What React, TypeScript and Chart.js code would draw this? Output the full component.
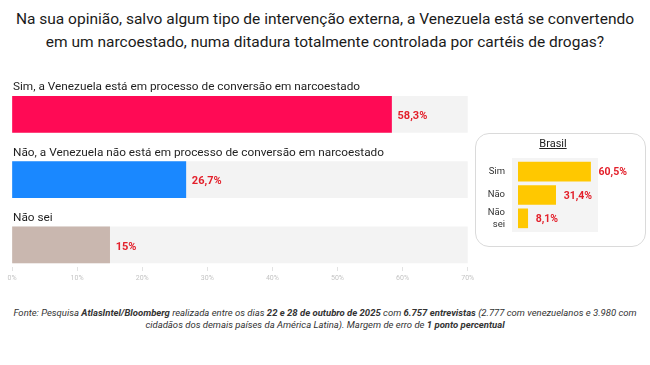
import React, { useEffect, useRef } from "react";
import { Chart, registerables } from "chart.js";

Chart.register(...registerables);

const titleLines = [
  "Na sua opinião, salvo algum tipo de intervenção externa, a Venezuela está se convertendo",
  "em um narcoestado, numa ditadura totalmente controlada por cartéis de drogas?",
];

const mainCategories = [
  "Sim, a Venezuela está em processo de conversão em narcoestado",
  "Não, a Venezuela não está em processo de conversão em narcoestado",
  "Não sei",
];
const mainValues = [58.3, 26.7, 15];
const mainAxisMax = 70;
const mainTickStep = 10;

const brasilTitle = "Brasil";
const brasilCategories: (string | string[])[] = ["Sim", "Não", ["Não", "sei"]];
const brasilValues = [60.5, 31.4, 8.1];

const mainColors = ["#FF0A55", "#1A88FF", "#C9B7AF"];
const trackColor = "#F3F3F3";
const valueColor = "#E3202B";
const goldColor = "#FFC800";

const fmt = (v: number) => String(v).replace(".", ",") + "%";

function MainChart() {
  const ref = useRef<HTMLCanvasElement>(null);
  useEffect(() => {
    if (!ref.current) return;
    const labelPlugin = {
      id: "mainLabels",
      afterDatasetsDraw(chart: any) {
        const ctx = chart.ctx;
        const meta = chart.getDatasetMeta(0);
        ctx.save();
        meta.data.forEach((bar: any, i: number) => {
          const p = bar.getProps(["x", "y", "height"], true);
          ctx.font = "11.8px Roboto";
          ctx.fillStyle = "#1f1f1f";
          ctx.textAlign = "left";
          ctx.textBaseline = "alphabetic";
          ctx.fillText(mainCategories[i], chart.chartArea.left + 1, p.y - p.height / 2 - 6);
          ctx.font = "bold 11px Roboto";
          ctx.fillStyle = valueColor;
          ctx.textBaseline = "middle";
          ctx.fillText(fmt(mainValues[i]), p.x + 6, p.y + 2);
        });
        ctx.restore();
      },
    };
    const chart = new Chart(ref.current, {
      type: "bar",
      data: {
        datasets: [
          {
            data: mainValues.map((v, i) => ({ x: v, y: i })),
            backgroundColor: mainColors,
            barThickness: 36,
            order: 0,
          },
          {
            data: mainValues.map((_, i) => ({ x: mainAxisMax, y: i })),
            backgroundColor: trackColor,
            barThickness: 36,
            order: 1,
          },
        ],
      },
      options: {
        indexAxis: "y",
        responsive: false,
        animation: false,
        layout: { padding: { left: 12, right: 12.3, top: 0, bottom: 0 } },
        plugins: { legend: { display: false }, tooltip: { enabled: false } },
        datasets: { bar: { grouped: false } } as any,
        scales: {
          y: {
            type: "linear",
            reverse: true,
            offset: false,
            min: -0.68,
            max: 2.34,
            display: false,
            ticks: { display: false },
            afterFit: (s: any) => {
              s.paddingTop = 0;
              s.paddingBottom = 0;
            },
          },
          x: {
            min: 0,
            max: mainAxisMax,
            border: { display: false },
            grid: { drawOnChartArea: false, drawTicks: true, tickLength: 4, color: "#e2e2e2" },
            ticks: {
              stepSize: mainTickStep,
              padding: 3,
              color: "#c4c4c4",
              font: { size: 7, family: "Roboto" },
              callback: (v: any) => v + "%",
            },
            afterFit: (s: any) => {
              s.height = 18;
            },
          },
        },
      } as any,
      plugins: [labelPlugin],
    });
    return () => chart.destroy();
  }, []);
  return (
    <canvas
      ref={ref}
      width={480}
      height={215}
      style={{ position: "absolute", left: 0, top: 70, width: 480, height: 215 }}
    />
  );
}

function BrasilChart() {
  const ref = useRef<HTMLCanvasElement>(null);
  useEffect(() => {
    if (!ref.current) return;
    const bgPlugin = {
      id: "insetBg",
      beforeDatasetsDraw(chart: any) {
        const { left, top, right, bottom } = chart.chartArea;
        const ctx = chart.ctx;
        ctx.save();
        ctx.fillStyle = "#F4F4F4";
        ctx.fillRect(left - 6, top - 2, right - left + 6, bottom - top + 4);
        ctx.restore();
      },
      afterDatasetsDraw(chart: any) {
        const ctx = chart.ctx;
        const meta = chart.getDatasetMeta(0);
        ctx.save();
        ctx.font = "bold 10.5px Roboto";
        ctx.fillStyle = valueColor;
        ctx.textAlign = "left";
        ctx.textBaseline = "middle";
        meta.data.forEach((bar: any, i: number) => {
          const p = bar.getProps(["x", "y"], true);
          ctx.fillText(fmt(brasilValues[i]), p.x + 8, p.y + 1);
        });
        ctx.restore();
      },
    };
    const chart = new Chart(ref.current, {
      type: "bar",
      data: {
        labels: brasilCategories as any,
        datasets: [
          {
            data: brasilValues,
            backgroundColor: goldColor,
            barThickness: 19,
          },
        ],
      },
      options: {
        indexAxis: "y",
        responsive: false,
        animation: false,
        layout: { padding: { left: 0, right: 48, top: 10, bottom: 10 } },
        plugins: { legend: { display: false }, tooltip: { enabled: false } },
        scales: {
          x: { display: false, min: 0, max: 66.7 },
          y: {
            grid: { display: false, drawTicks: false },
            border: { display: false },
            ticks: {
              padding: 13,
              autoSkip: false,
              color: "#333",
              font: { size: 9.5, family: "Roboto", lineHeight: 1.25 },
            },
            afterFit: (s: any) => {
              s.width = 43;
              s.paddingTop = 0;
              s.paddingBottom = 0;
            },
          },
        },
      } as any,
      plugins: [bgPlugin],
    });
    return () => chart.destroy();
  }, []);
  return (
    <canvas
      ref={ref}
      width={171}
      height={90}
      style={{ position: "absolute", left: 475, top: 150, width: 171, height: 90 }}
    />
  );
}

export default function App() {
  return (
    <div
      style={{
        position: "absolute",
        left: 0,
        top: 0,
        width: 650,
        height: 365,
        background: "#fff",
        fontFamily: "Roboto, sans-serif",
        overflow: "hidden",
      }}
    >
      <div
        style={{
          position: "absolute",
          left: 0,
          top: 8,
          width: 650,
          textAlign: "center",
          fontSize: 15.5,
          lineHeight: "23px",
          color: "#1a1a1a",
        }}
      >
        {titleLines.map((l, i) => (
          <div key={i}>{l}</div>
        ))}
      </div>
      <MainChart />
      <div
        style={{
          position: "absolute",
          left: 475,
          top: 133,
          width: 171,
          height: 114,
          boxSizing: "border-box",
          border: "1px solid #dadada",
          borderRadius: 14,
        }}
      />
      <div
        style={{
          position: "absolute",
          left: 475,
          top: 137,
          width: 156,
          textAlign: "center",
          fontSize: 11,
          color: "#222",
          textDecoration: "underline",
        }}
      >
        {brasilTitle}
      </div>
      <BrasilChart />
      <div
        style={{
          position: "absolute",
          left: 0,
          top: 307,
          width: 650,
          textAlign: "center",
          fontSize: 9.5,
          lineHeight: "12px",
          fontStyle: "italic",
          color: "#333",
        }}
      >
        <div>
          Fonte: Pesquisa <b>AtlasIntel/Bloomberg</b> realizada entre os dias <b>22 e 28 de outubro de 2025</b> com{" "}
          <b>6.757 entrevistas</b> (2.777 com venezuelanos e 3.980 com
        </div>
        <div>
          cidadãos dos demais países da América Latina). Margem de erro de <b>1 ponto percentual</b>
        </div>
      </div>
    </div>
  );
}
